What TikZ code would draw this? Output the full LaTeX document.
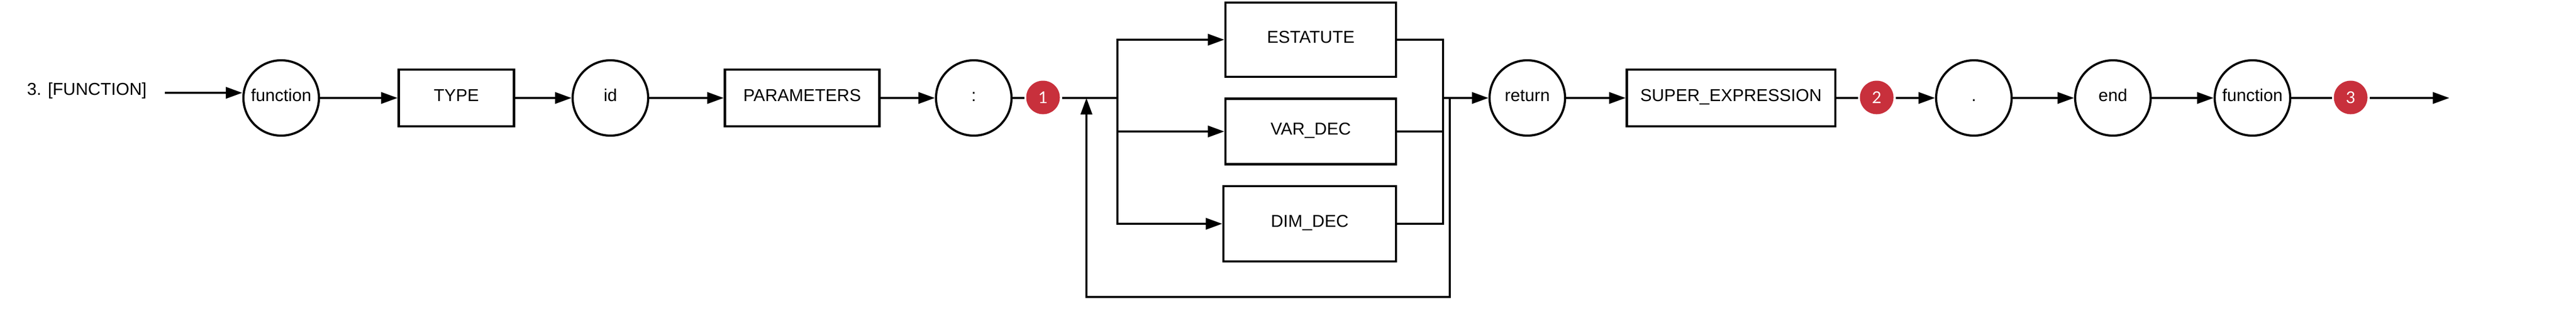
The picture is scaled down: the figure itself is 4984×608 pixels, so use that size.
\documentclass[tikz,border=0pt]{standalone}
\usepackage{fontspec}
\setmainfont{Liberation Sans}
\newfontfamily\badgefont{Lato}
\usetikzlibrary{arrows.meta}
\newcommand{\figuresize}{0.01cm}
\definecolor{badgered}{RGB}{200,48,60}
\tikzset{
	wire/.style={line width=1.2pt},
	flow/.style={wire, -{Triangle[length=0.32cm,width=0.22cm]}},
	terminal/.style={circle, draw, line width=1.2pt, minimum size=1.46cm, inner sep=0pt,
		text height=6.9pt, text depth=3.2pt},
	nonterminal/.style={rectangle, draw, line width=1.2pt, minimum width=#1, minimum height=1.1cm, inner sep=0pt,
		text height=6.9pt, text depth=3.2pt},
	badge/.style={circle, fill=badgered, text=white, minimum size=0.65cm, inner sep=0pt, outer sep=0.04cm,
		font=\badgefont\fontsize{9}{9}\selectfont}
}

\begin{document}
\begin{tikzpicture}[x=\figuresize,y=-\figuresize,font=\fontsize{9.5}{11}\selectfont]
	\useasboundingbox (0,0) rectangle (4984,608);

	\node (title) at (168,176) {3. [FUNCTION]};
	\coordinate (start) at (319,180);
	\node[terminal] (kwfunction) at (544,190) {function};
	\node[nonterminal=2.23cm] (type) at (883,190) {TYPE};
	\node[terminal] (id) at (1181,190) {id};
	\node[nonterminal=2.99cm] (parameters) at (1552,190) {PARAMETERS};
	\node[terminal] (colon) at (1884,190) {:};
	\node[badge] (one) at (2018,189) {1};

	\coordinate (loopin) at (2102,190);
	\coordinate (fork) at (2162,190);
	\node[nonterminal=3.3cm, minimum height=1.44cm] (estatute) at (2536,77) {ESTATUTE};
	\node[nonterminal=3.3cm, minimum height=1.27cm] (vardec) at (2536,255) {VAR\_DEC};
	\node[nonterminal=3.34cm, minimum height=1.46cm] (dimdec) at (2534,434) {DIM\_DEC};
	\coordinate (merge) at (2792,190);
	\coordinate (loopout) at (2805,190);
	\coordinate (loopdown) at (2805,576);

	\node[terminal] (return) at (2955,190) {return};
	\node[nonterminal=4.03cm] (superexpr) at (3349,190) {SUPER\_EXPRESSION};
	\node[badge] (two) at (3631,189) {2};
	\node[terminal] (dot) at (3819,190) {.};
	\node[terminal] (kwend) at (4088,190) {end};
	\node[terminal] (closefunction) at (4358,190) {function};
	\node[badge] (three) at (4548,189) {3};
	\coordinate (finish) at (4739,190);

	\draw[flow] (start) -- (start -| kwfunction.west);
	\draw[flow] (kwfunction) -- (type);
	\draw[flow] (type) -- (id);
	\draw[flow] (id) -- (parameters);
	\draw[flow] (parameters) -- (colon);
	\draw[wire] (colon) -- (colon -| one.west);
	\draw[wire] (one.east |- fork) -- (fork);

	% alternatives
	\draw[flow] (fork) |- (estatute);
	\draw[flow] (fork) |- (vardec);
	\draw[flow] (fork) |- (dimdec);
	\draw[wire] (estatute) -| (merge);
	\draw[wire] (vardec) -| (merge);
	\draw[wire] (dimdec) -| (merge);
	\draw[flow] (merge) -- (return);

	% repetition
	\draw[flow] (loopout) -- (loopdown) -| (loopin);

	\draw[flow] (return) -- (superexpr);
	\draw[wire] (superexpr) -- (superexpr -| two.west);
	\draw[flow] (two.east |- dot) -- (dot);
	\draw[flow] (dot) -- (kwend);
	\draw[flow] (kwend) -- (closefunction);
	\draw[wire] (closefunction) -- (closefunction -| three.west);
	\draw[flow] (three.east |- finish) -- (finish);
\end{tikzpicture}
\end{document}
